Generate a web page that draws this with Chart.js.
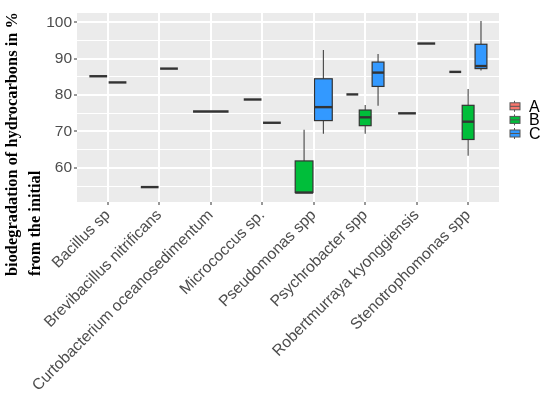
<!DOCTYPE html>
<html>
<head>
<meta charset="utf-8">
<script src="https://cdn.jsdelivr.net/npm/chart.js@4.4.1/dist/chart.umd.min.js"></script>
<style>
  html, body { margin: 0; padding: 0; background: #fff; }
  #wrap { width: 550px; height: 395px; }
</style>
</head>
<body>
<div id="wrap"><canvas id="boxChart" width="550" height="395"></canvas></div>
<script>
// categories (x axis)
const species = [
    "Bacillus sp",
    "Brevibacillus nitrificans",
    "Curtobacterium oceanosedimentum",
    "Micrococcus sp.",
    "Pseudomonas spp",
    "Psychrobacter spp",
    "Robertmurraya kyonggiensis",
    "Stenotrophomonas spp"
];
const groups = ["A", "B", "C"];
const groupColors = ["#F8766D", "#00BE3A", "#3399FF"];

// [min, q1, median, q3, max] per species, null where the group is missing
const groupA = [
    [85.2, 85.2, 85.2, 85.2, 85.2],
    [54.7, 54.7, 54.7, 54.7, 54.7],
    [75.5, 75.5, 75.5, 75.5, 75.5],
    [78.8, 78.8, 78.8, 78.8, 78.8],
    null,
    [80.2, 80.2, 80.2, 80.2, 80.2],
    [75.0, 75.0, 75.0, 75.0, 75.0],
    [86.4, 86.4, 86.4, 86.4, 86.4]
];
const groupB = [
    null,
    null,
    null,
    null,
    [53.2, 53.2, 53.2, 61.9, 70.5],
    [69.4, 71.6, 73.9, 75.9, 77.3],
    null,
    [63.3, 67.8, 72.7, 77.2, 81.7]
];
const groupC = [
    [83.5, 83.5, 83.5, 83.5, 83.5],
    [87.3, 87.3, 87.3, 87.3, 87.3],
    null,
    [72.4, 72.4, 72.4, 72.4, 72.4],
    [69.4, 73.0, 76.7, 84.5, 92.4],
    [77.1, 82.4, 86.2, 89.1, 91.3],
    [94.2, 94.2, 94.2, 94.2, 94.2],
    [86.8, 87.3, 88.0, 94.0, 100.4]
];
const groupData = [groupA, groupB, groupC];

const yTicks = [55, 60, 65, 70, 75, 80, 85, 90, 95, 100];
const yMin = 50.6, yMax = 102.6;
const yTitle = ["biodegradation of hydrocarbons in %", "from the initial"];

const dark = "#333333";
const tickGrey = "#4D4D4D";

// panel background + boxes
const boxPlugin = {
    id: 'boxes',
    beforeDraw(chart) {
        const a = chart.chartArea;
        const ctx = chart.ctx;
        ctx.save();
        ctx.fillStyle = "#EBEBEB";
        ctx.fillRect(a.left, a.top, a.right - a.left, a.bottom - a.top);
        ctx.restore();
    },
    afterDatasetsDraw(chart) {
        const ctx = chart.ctx;
        const xs = chart.scales.x;
        const ys = chart.scales.y;
        ctx.save();
        species.forEach(function (sp, i) {
            const present = [];
            groupData.forEach(function (g, gi) {
                if (g[i]) present.push(gi);
            });
            const n = present.length;
            const slot = 0.75 / n;
            present.forEach(function (gi, j) {
                const v = groupData[gi][i];
                const c = i - 0.375 + slot * (j + 0.5);
                const xl = xs.getPixelForValue(c - slot * 0.46);
                const xr = xs.getPixelForValue(c + slot * 0.46);
                const xc = xs.getPixelForValue(c);
                const yMinP = ys.getPixelForValue(v[0]);
                const yQ1 = ys.getPixelForValue(v[1]);
                const yMed = ys.getPixelForValue(v[2]);
                const yQ3 = ys.getPixelForValue(v[3]);
                const yMaxP = ys.getPixelForValue(v[4]);

                // whiskers
                ctx.strokeStyle = "#444";
                ctx.lineWidth = 1.1;
                ctx.beginPath();
                ctx.moveTo(xc, yMaxP);
                ctx.lineTo(xc, yQ3);
                ctx.moveTo(xc, yQ1);
                ctx.lineTo(xc, yMinP);
                ctx.stroke();
                // box
                ctx.strokeStyle = dark;
                ctx.lineWidth = 1.2;
                if (v[3] > v[1]) {
                    ctx.fillStyle = groupColors[gi];
                    ctx.fillRect(xl, yQ3, xr - xl, yQ1 - yQ3);
                    ctx.strokeRect(xl, yQ3, xr - xl, yQ1 - yQ3);
                }
                // median
                ctx.lineWidth = 2.4;
                ctx.beginPath();
                ctx.moveTo(xl, yMed);
                ctx.lineTo(xr, yMed);
                ctx.stroke();
            });
        });
        ctx.restore();
    },
    afterDraw(chart) {
        const ctx = chart.ctx;
        ctx.save();
        // y axis title, two lines, left aligned
        ctx.fillStyle = "#000";
        ctx.font = "bold 16.4px 'Liberation Serif', 'Times New Roman', serif";
        ctx.textAlign = "left";
        ctx.textBaseline = "middle";
        [13, 36].forEach(function (x, k) {
            ctx.save();
            ctx.translate(x, 276);
            ctx.rotate(-Math.PI / 2);
            ctx.fillText(yTitle[k], 0, 0);
            ctx.restore();
        });
        // legend
        const top = 106.3;
        groups.forEach(function (g, k) {
            const cy = top + k * 13.6;
            ctx.strokeStyle = "#555";
            ctx.lineWidth = 1;
            ctx.beginPath();
            ctx.moveTo(514.5, cy - 5.5);
            ctx.lineTo(514.5, cy + 5.5);
            ctx.stroke();
            ctx.fillStyle = groupColors[k];
            ctx.fillRect(510, cy - 3.5, 10, 7);
            ctx.strokeRect(510, cy - 3.5, 10, 7);
            ctx.beginPath();
            ctx.moveTo(510, cy);
            ctx.lineTo(520, cy);
            ctx.stroke();
            ctx.fillStyle = "#000";
            ctx.font = "16px 'Liberation Sans', Arial, sans-serif";
            ctx.textAlign = "left";
            ctx.textBaseline = "middle";
            ctx.fillText(g, 529, cy + 1);
        });
        ctx.restore();
    }
};

new Chart(document.getElementById("boxChart"), {
    type: 'scatter',
    data: {
        datasets: groups.map(function (g, gi) {
            return {
                label: g,
                data: groupData[gi].map(function (v, i) {
                    return v ? { x: i, y: v[2] } : null;
                }).filter(Boolean),
                pointRadius: 0,
                pointHoverRadius: 0,
                backgroundColor: groupColors[gi]
            };
        })
    },
    options: {
        responsive: false,
        animation: false,
        events: [],
        layout: {
            padding: { top: 13, right: 51, left: 0, bottom: 0 }
        },
        plugins: {
            legend: { display: false },
            tooltip: { enabled: false }
        },
        scales: {
            x: {
                type: 'linear',
                min: -0.6,
                max: 7.6,
                afterBuildTicks: function (scale) {
                    scale.ticks = species.map(function (s, i) { return { value: i }; });
                },
                afterFit: function (scale) { scale.height = 193; },
                border: { display: false },
                grid: {
                    color: "#FFFFFF",
                    lineWidth: 2,
                    tickColor: dark,
                    tickLength: 3,
                    tickWidth: 1
                },
                ticks: {
                    autoSkip: false,
                    minRotation: 45,
                    maxRotation: 45,
                    padding: 1,
                    color: tickGrey,
                    font: { family: "'Liberation Sans', Arial, sans-serif", size: 15.7 },
                    callback: function (value) { return species[value]; }
                }
            },
            y: {
                min: yMin,
                max: yMax,
                afterBuildTicks: function (scale) {
                    scale.ticks = yTicks.map(function (v) { return { value: v }; });
                },
                afterFit: function (scale) { scale.width = 77; },
                border: { display: false },
                grid: {
                    color: "#FFFFFF",
                    lineWidth: function (c) { return c.tick.value % 10 === 0 ? 2 : 1; },
                    tickColor: function (c) { return c.tick.value % 10 === 0 ? dark : "rgba(0,0,0,0)"; },
                    tickLength: 3,
                    tickWidth: 1
                },
                ticks: {
                    autoSkip: false,
                    padding: 2,
                    color: tickGrey,
                    font: { family: "'Liberation Sans', Arial, sans-serif", size: 15.5 },
                    callback: function (value) { return value % 10 === 0 ? String(value) : ""; }
                }
            }
        }
    },
    plugins: [boxPlugin]
});
</script>
</body>
</html>
